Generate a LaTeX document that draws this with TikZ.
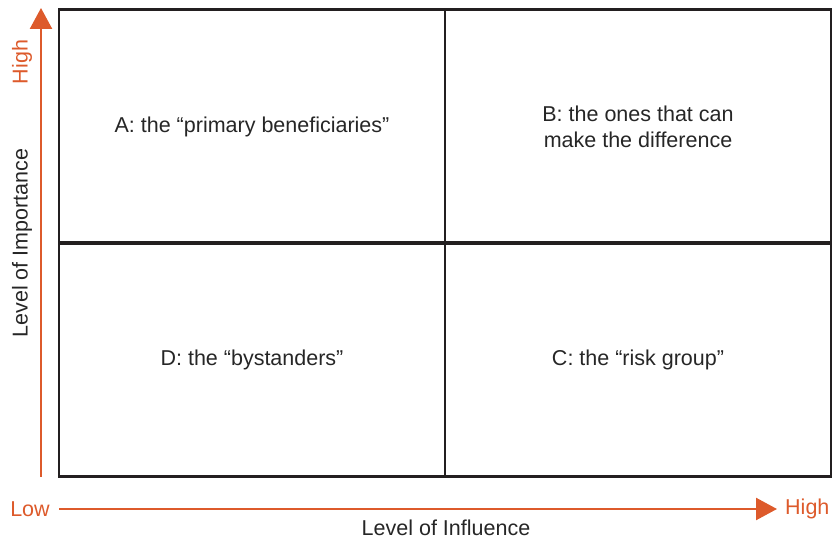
\documentclass[tikz,border=0pt]{standalone}
\usepackage{fontspec}
\setmainfont{Liberation Sans}
\usepackage{tikz}
\usetikzlibrary{arrows.meta,positioning}
\definecolor{axisOrange}{HTML}{DD5A2B}
\definecolor{gridInk}{HTML}{231F20}
\tikzset{
  quad/.style={draw=gridInk, line width=2.8pt, minimum width=386pt,
        minimum height=233.5pt, align=center, inner sep=0pt,
        font=\fontsize{21.5}{26}\selectfont, text=black!85},
  axis/.style={-{Triangle[length=21pt, width=22pt]}, line width=2.4pt, draw=axisOrange},
  axlab/.style={font=\fontsize{21.5}{26}\selectfont, text=axisOrange, inner sep=0pt},
  axname/.style={font=\fontsize{21.5}{26}\selectfont, text=black!85, inner sep=0pt}
}
\begin{document}
\begin{tikzpicture}[x=1pt, y=1pt]
\useasboundingbox (0,0) rectangle (832,540);
% quadrants
\node[quad] (qa) at (252,413.5) {A: the “primary beneficiaries”};
\node[quad] (qb) at (638,413.5) {B: the ones that can\\make the difference};
\node[quad] (qd) at (252,180.5) {D: the “bystanders”};
\node[quad] (qc) at (638,180.5) {C: the “risk group”};

% axes
\coordinate (yfoot) at (41,63);
\coordinate (ytop) at (41,532);
\coordinate (xfoot) at (59,31);
\coordinate (xtop) at (777,31);
\draw[axis] (yfoot) -- (ytop);
\draw[axis] (xfoot) -- (xtop);

\node[axlab] (xlow) at (30,31) {Low};
\node[axlab, anchor=west] (xhigh) at (785,31) {High};
\node[axlab, rotate=90] (yhigh) at (22,478) {High};
\node[axname] (xname) at (446,12) {Level of Influence};
\node[axname, rotate=90] (yname) at (22,297) {Level of Importance};
\end{tikzpicture}
\end{document}
